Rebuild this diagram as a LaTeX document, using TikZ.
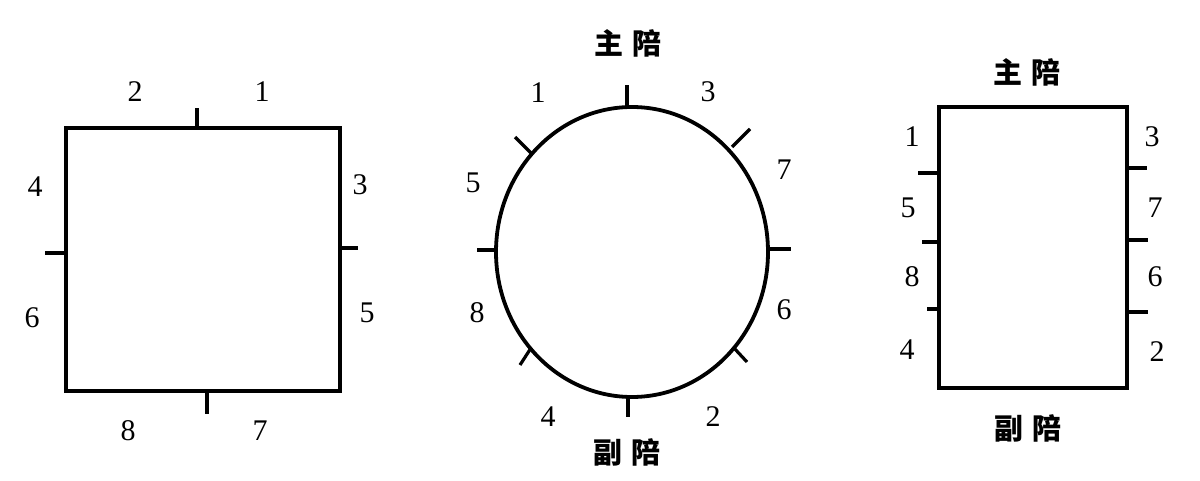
\documentclass[tikz,border=0pt]{standalone}
\usepackage{fontspec}
\setmainfont{Liberation Serif}
\newfontfamily\cjk{Noto Sans CJK SC}
\newcommand{\hgap}{\hspace{9pt}}
\begin{document}
\begin{tikzpicture}[x=1pt,y=-1pt,
  outline/.style={line width=3.8pt,line join=miter},
  tick/.style={line width=3.2pt},
  num/.style={font=\fontsize{30}{30}\selectfont,inner sep=0pt},
  han/.style={font=\cjk\bfseries\fontsize{29}{29}\selectfont,inner sep=0pt}]
\useasboundingbox[fill=white] (0,0) rectangle (1200,481);
% ---------- square ----------
\coordinate (sqa) at (66,128);
\coordinate (sqb) at (340,391);
\draw[outline] (sqa) rectangle (sqb);
\draw[tick] (197,128) -- (197,108);
\draw[tick] (66,253) -- (45,253);
\draw[tick] (340,248) -- (358,248);
\draw[tick] (207,391) -- (207,414);
\node[num] (s2) at (135,92) {2};
\node[num] (s1) at (262,92) {1};
\node[num] (s4) at (35,187) {4};
\node[num] (s3) at (360,185) {3};
\node[num] (s6) at (32,318) {6};
\node[num] (s5) at (367,313) {5};
\node[num] (s8) at (128,431) {8};
\node[num] (s7) at (260,431) {7};
% ---------- circle ----------
\coordinate (cc) at (632,252);
\draw[outline] (cc) ellipse [x radius=136, y radius=145];
\draw[tick] (627,107) -- (627,85);
\draw[tick] (628,397) -- (628,417);
\draw[tick] (497,250) -- (477,250);
\draw[tick] (768,249) -- (791,249);
\draw[tick] (531,153) -- (515,137);
\draw[tick] (732,147) -- (750,129);
\draw[tick] (531,348) -- (520,365);
\draw[tick] (734,348) -- (747,362);
\node[han] (ctop) at (628,43) {主\hgap 陪};
\node[han] (cbot) at (627,452) {副\hgap 陪};
\node[num] (c1) at (538,93) {1};
\node[num] (c3) at (708,92) {3};
\node[num] (c5) at (473,183) {5};
\node[num] (c7) at (784,170) {7};
\node[num] (c8) at (477,313) {8};
\node[num] (c6) at (784,310) {6};
\node[num] (c4) at (548,417) {4};
\node[num] (c2) at (713,417) {2};
% ---------- rectangle ----------
\coordinate (ra) at (939,107);
\coordinate (rb) at (1127,388);
\draw[outline] (ra) rectangle (rb);
\draw[tick] (939,173) -- (918,173);
\draw[tick] (939,242) -- (922,242);
\draw[tick] (939,309) -- (927,309);
\draw[tick] (1127,168) -- (1147,168);
\draw[tick] (1127,240) -- (1148,240);
\draw[tick] (1127,312) -- (1148,312);
\node[han] (rtop) at (1027,72) {主\hgap 陪};
\node[han] (rbot) at (1028,428) {副\hgap 陪};
\node[num] (r1) at (912,137) {1};
\node[num] (r3) at (1152,137) {3};
\node[num] (r5) at (908,208) {5};
\node[num] (r7) at (1155,208) {7};
\node[num] (r8) at (912,277) {8};
\node[num] (r6) at (1155,277) {6};
\node[num] (r4) at (907,350) {4};
\node[num] (r2) at (1157,352) {2};
\end{tikzpicture}
\end{document}
